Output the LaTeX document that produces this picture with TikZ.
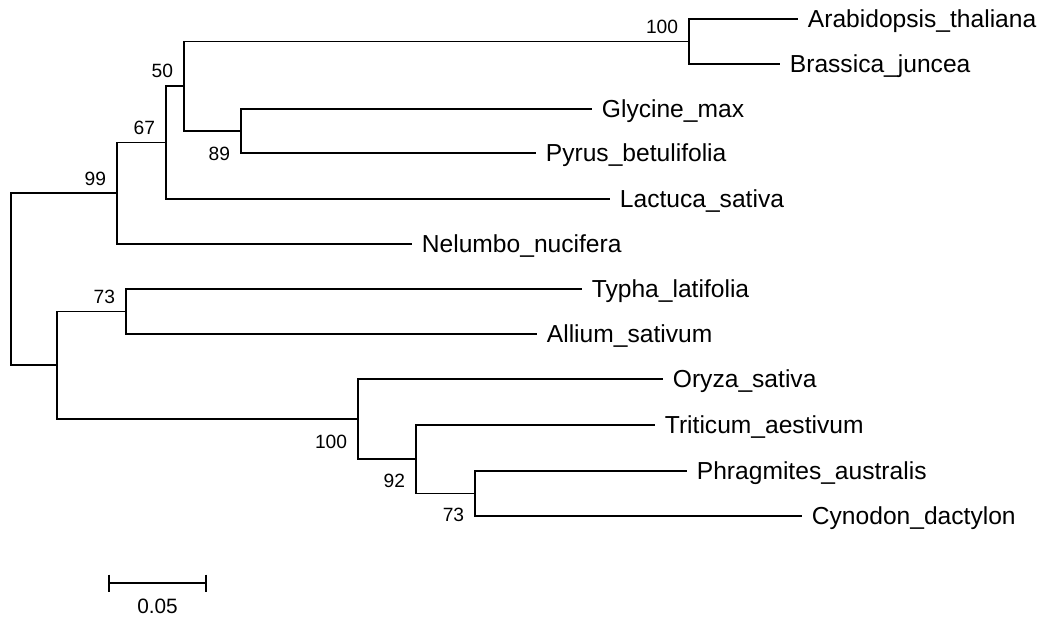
\documentclass[tikz,border=0pt]{standalone}
\usepackage{fontspec}
\setmainfont{Liberation Sans}
\usetikzlibrary{calc}
\begin{document}
\begin{tikzpicture}[x=0.5pt,y=-0.5pt,
  branch/.style={line width=0.95pt, line join=miter},
  leaf/.style={anchor=west, inner xsep=4.75pt, inner ysep=0pt, text height=8.8pt, text depth=0pt, font=\fontsize{12.3}{14}\selectfont},
  boot/.style={inner sep=0pt, text height=6.9pt, text depth=0pt, font=\fontsize{9.6}{11}\selectfont},
  bootup/.style={boot, anchor=south east},
  bootdown/.style={boot, anchor=north east}]
\useasboundingbox (0,0) rectangle (1049,616);
% leaves (text starts after a small gap at the end of each branch)
\node[leaf] (A) at (798,19) {Arabidopsis\_thaliana};
\node[leaf] (B) at (780,64) {Brassica\_juncea};
\node[leaf] (C) at (592,109) {Glycine\_max};
\node[leaf] (D) at (536,153) {Pyrus\_betulifolia};
\node[leaf] (E) at (610,199) {Lactuca\_sativa};
\node[leaf] (F) at (412,244) {Nelumbo\_nucifera};
\node[leaf] (G) at (582,289) {Typha\_latifolia};
\node[leaf] (H) at (537,334) {Allium\_sativum};
\node[leaf] (I) at (663,379) {Oryza\_sativa};
\node[leaf] (J) at (655,425) {Triticum\_aestivum};
\node[leaf] (K) at (687,471) {Phragmites\_australis};
\node[leaf] (L) at (802,516) {Cynodon\_dactylon};
% internal nodes
\coordinate (nAB) at (689,41.5);
\coordinate (nCD) at (241,131);
\coordinate (n50) at (184,86);
\coordinate (n67) at (166,142.5);
\coordinate (n99) at (117,193);
\coordinate (nGH) at (126,311.5);
\coordinate (nKL) at (475,493.5);
\coordinate (n92) at (416,459);
\coordinate (nP) at (358,419);
\coordinate (nM) at (57,365);
\coordinate (root) at (11,279);
% branches
\draw[branch] (nAB) |- (A.west);
\draw[branch] (nAB) |- (B.west);
\draw[branch] (nCD) |- (C.west);
\draw[branch] (nCD) |- (D.west);
\draw[branch] (n50) |- (nAB);
\draw[branch] (n50) |- (nCD);
\draw[branch] (n67) |- (n50);
\draw[branch] (n67) |- (E.west);
\draw[branch] (n99) |- (n67);
\draw[branch] (n99) |- (F.west);
\draw[branch] (nGH) |- (G.west);
\draw[branch] (nGH) |- (H.west);
\draw[branch] (nKL) |- (K.west);
\draw[branch] (nKL) |- (L.west);
\draw[branch] (n92) |- (J.west);
\draw[branch] (n92) |- (nKL);
\draw[branch] (nP) |- (I.west);
\draw[branch] (nP) |- (n92);
\draw[branch] (nM) |- (nGH);
\draw[branch] (nM) |- (nP);
\draw[branch] (root) |- (n99);
\draw[branch] (root) |- (nM);
% bootstrap values
\node[bootup] (bAB) at ($(nAB)+(-10.5,-8)$) {100};
\node[bootup] (b50) at ($(n50)+(-10.5,-8)$) {50};
\node[bootup] (b67) at ($(n67)+(-10.5,-7.5)$) {67};
\node[bootup] (b99) at ($(n99)+(-10.5,-7.5)$) {99};
\node[bootup] (bGH) at ($(nGH)+(-10.5,-7.5)$) {73};
\node[bootdown] (bCD) at ($(nCD)+(-10.5,15.5)$) {89};
\node[bootdown] (bP) at ($(nP)+(-10.5,15.5)$) {100};
\node[bootdown] (b92) at ($(n92)+(-10.5,14)$) {92};
\node[bootdown] (bKL) at ($(nKL)+(-10.5,13.5)$) {73};
% scale bar
\coordinate (s1) at (109,583);
\coordinate (s2) at (206,583);
\draw[branch] (s1) -- (s2);
\draw[branch] ($(s1)+(0,-8.5)$) -- ($(s1)+(0,8.5)$);
\draw[branch] ($(s2)+(0,-8.5)$) -- ($(s2)+(0,8.5)$);
\node[boot, anchor=north, font=\fontsize{10.4}{12}\selectfont, text height=7.5pt] (sl) at ($(s1)!0.5!(s2)+(0,15)$) {0.05};
\end{tikzpicture}
\end{document}
